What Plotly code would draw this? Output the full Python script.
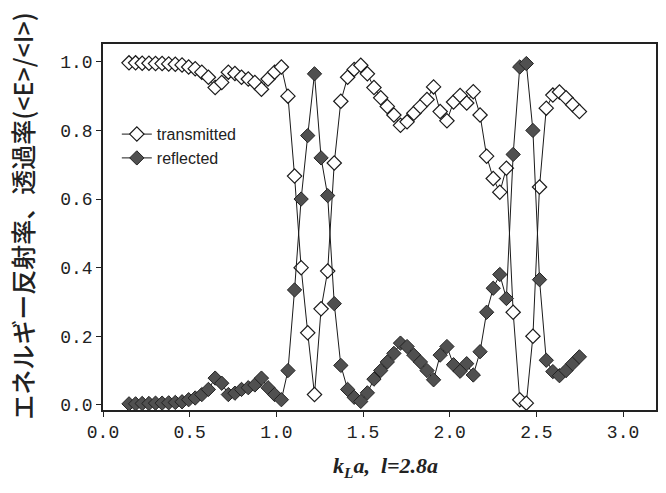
import plotly.graph_objects as go

# k_L * a sample points
kla = [0.150, 0.188, 0.226, 0.265, 0.303, 0.341, 0.379, 0.417, 0.456, 0.494,
       0.532, 0.570, 0.608, 0.647, 0.685, 0.723, 0.761, 0.799, 0.838, 0.876,
       0.914, 0.952, 0.990, 1.029, 1.067, 1.105, 1.143, 1.181, 1.220, 1.258,
       1.296, 1.334, 1.372, 1.411, 1.449, 1.487, 1.525, 1.563, 1.602, 1.640,
       1.678, 1.716, 1.754, 1.793, 1.831, 1.869, 1.907, 1.945, 1.984, 2.022,
       2.060, 2.098, 2.136, 2.175, 2.213, 2.251, 2.289, 2.327, 2.366, 2.404,
       2.442, 2.480, 2.518, 2.557, 2.595, 2.633, 2.671, 2.709, 2.748]

# energy transmission ratio
transmitted = [0.997, 0.997, 0.996, 0.996, 0.995, 0.995, 0.994, 0.993, 0.991, 0.985,
               0.980, 0.970, 0.955, 0.925, 0.940, 0.970, 0.966, 0.955, 0.950, 0.940,
               0.920, 0.950, 0.970, 0.985, 0.900, 0.667, 0.400, 0.210, 0.030, 0.280,
               0.390, 0.705, 0.885, 0.955, 0.978, 0.990, 0.965, 0.925, 0.895, 0.870,
               0.845, 0.815, 0.825, 0.850, 0.870, 0.890, 0.927, 0.855, 0.828, 0.883,
               0.902, 0.880, 0.913, 0.845, 0.725, 0.660, 0.620, 0.690, 0.270, 0.015,
               0.005, 0.200, 0.635, 0.865, 0.903, 0.912, 0.895, 0.875, 0.855]

# energy reflection ratio
reflected = [0.003, 0.003, 0.004, 0.004, 0.005, 0.005, 0.006, 0.007, 0.009, 0.015,
             0.020, 0.030, 0.045, 0.078, 0.063, 0.030, 0.034, 0.045, 0.050, 0.058,
             0.078, 0.050, 0.030, 0.015, 0.100, 0.335, 0.600, 0.785, 0.965, 0.720,
             0.610, 0.295, 0.115, 0.045, 0.022, 0.010, 0.035, 0.075, 0.100, 0.125,
             0.150, 0.180, 0.170, 0.145, 0.125, 0.100, 0.073, 0.145, 0.170, 0.117,
             0.098, 0.120, 0.087, 0.155, 0.270, 0.340, 0.380, 0.310, 0.730, 0.985,
             0.995, 0.800, 0.365, 0.130, 0.097, 0.085, 0.100, 0.120, 0.140]

x_ticks = [0.0, 0.5, 1.0, 1.5, 2.0, 2.5, 3.0]
y_ticks = [0.0, 0.2, 0.4, 0.6, 0.8, 1.0]

fig = go.Figure()

fig.add_trace(go.Scatter(
    x=kla, y=transmitted, name="transmitted", mode="lines+markers",
    line=dict(color="#1a1a1a", width=1),
    marker=dict(symbol="diamond", size=11, color="white",
                line=dict(color="#1a1a1a", width=1.2)),
))
fig.add_trace(go.Scatter(
    x=kla, y=reflected, name="reflected", mode="lines+markers",
    line=dict(color="#1a1a1a", width=1),
    marker=dict(symbol="diamond", size=11, color="#505050",
                line=dict(color="#222222", width=1)),
))

tick_font = dict(family="Liberation Mono, DejaVu Sans Mono, monospace", size=18, color="#222")

fig.update_xaxes(
    range=[0, 3.19], tickvals=x_ticks, ticktext=[f"{v:.1f}" for v in x_ticks],
    ticks="outside", ticklen=5, tickwidth=1.2, tickcolor="#222",
    showline=True, linecolor="#222", linewidth=1.5, mirror=True,
    showgrid=False, zeroline=False, tickfont=tick_font,
)
fig.update_yaxes(
    range=[-0.015, 1.052], tickvals=y_ticks, ticktext=[f"{v:.1f}" for v in y_ticks],
    ticks="outside", ticklen=5, tickwidth=1.2, tickcolor="#222",
    showline=True, linecolor="#222", linewidth=1.5, mirror=True,
    showgrid=False, zeroline=False, tickfont=tick_font,
)

fig.add_annotation(
    text="エネルギー反射率、透過率(&lt;E&gt;/&lt;I&gt;)",
    xref="paper", yref="paper", x=-0.147, y=0.53,
    xanchor="center", yanchor="middle", textangle=-90, showarrow=False,
    font=dict(family="Noto Sans CJK JP", size=25, color="#222", weight=500),
)
fig.add_annotation(
    text="<b><i>k<sub>L</sub>a,  l=2.8a</i></b>",
    xref="paper", yref="paper", x=0.51, y=-0.112,
    xanchor="center", yanchor="top", showarrow=False,
    font=dict(family="Liberation Serif, DejaVu Serif, serif", size=22, color="#222"),
)

fig.update_layout(
    width=666, height=493,
    margin=dict(l=103, r=8, t=44, b=83),
    paper_bgcolor="white", plot_bgcolor="white",
    showlegend=True,
    legend=dict(
        x=0.025, y=0.80, xanchor="left", yanchor="top",
        bgcolor="rgba(255,255,255,0)", borderwidth=0,
        font=dict(family="Liberation Sans, Arial, sans-serif", size=16, color="#222"),
        itemwidth=30, tracegroupgap=0,
    ),
)

fig.write_html("out.html")
